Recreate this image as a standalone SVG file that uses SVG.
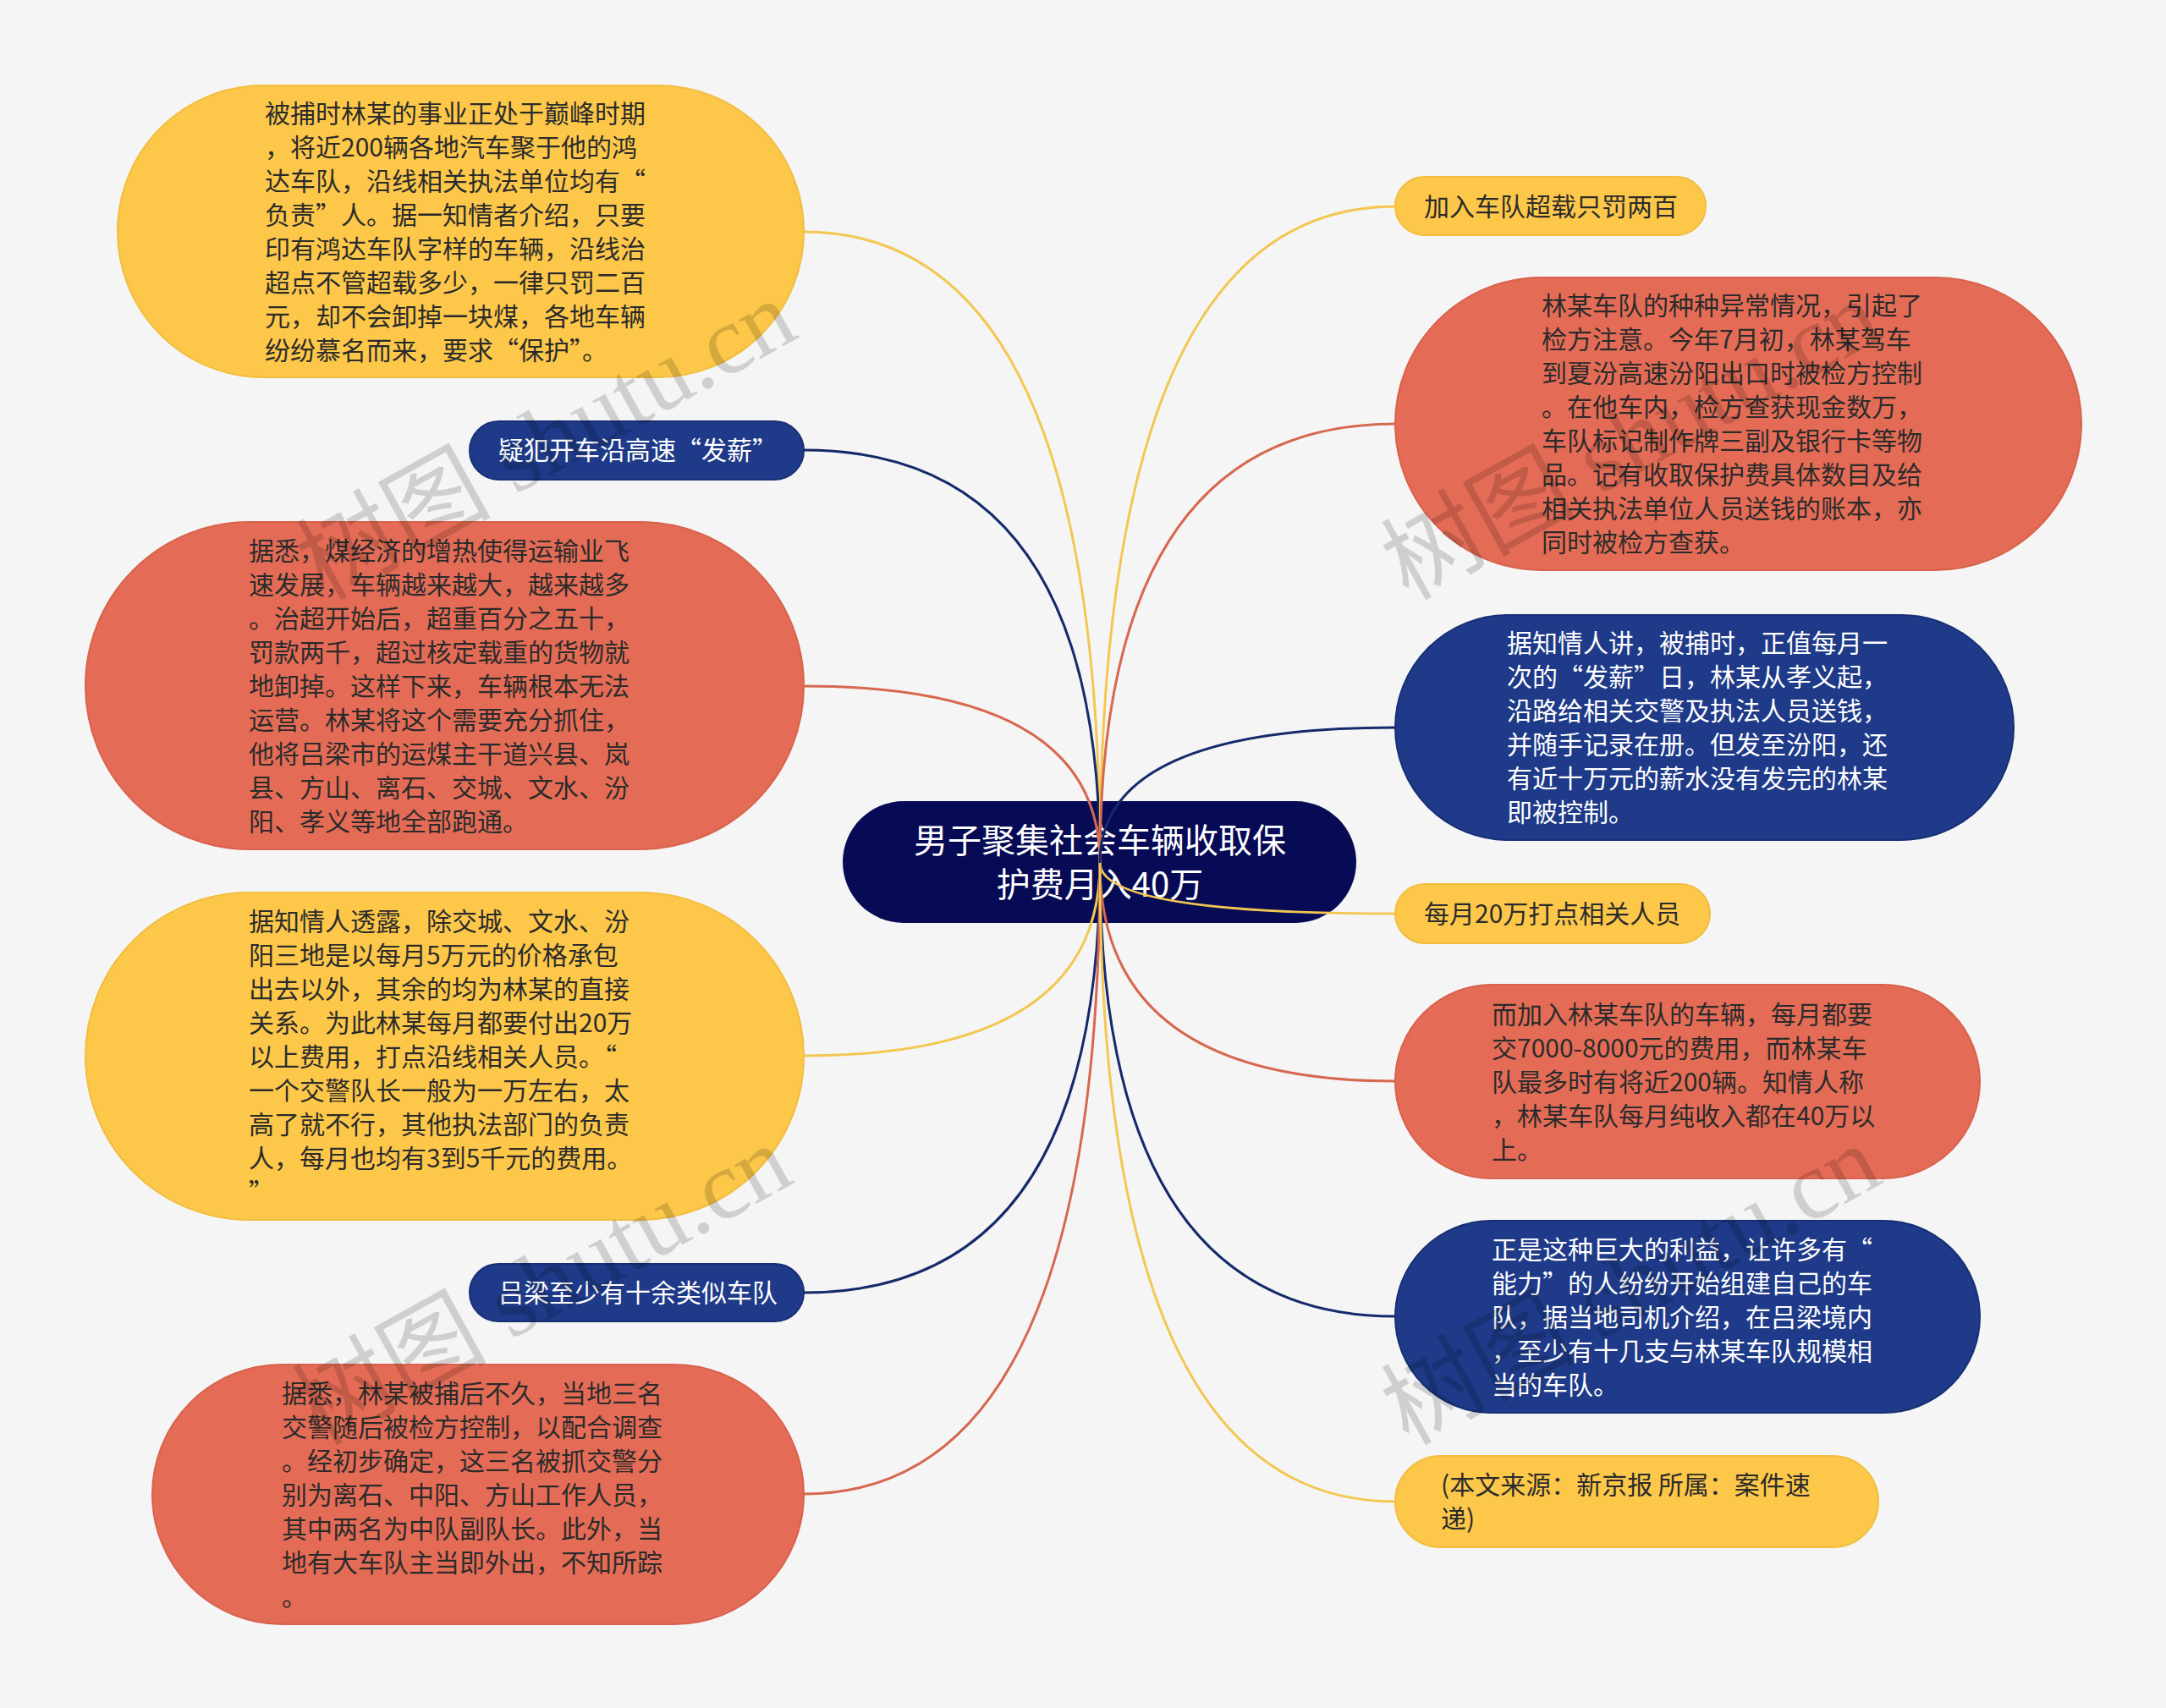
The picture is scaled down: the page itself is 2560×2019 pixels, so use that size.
<svg xmlns="http://www.w3.org/2000/svg" width="2560" height="2019" viewBox="0 0 2560 2019">
<style>
.t{font-family:"Noto Sans CJK SC","Noto Sans",sans-serif;font-size:30px}
.dk{fill:#2b2b2b}
.wt{fill:#ffffff}
.ct{font-family:"Noto Sans CJK SC","Noto Sans",sans-serif;font-size:40px;fill:#ffffff;text-anchor:middle}
.y{fill:#FDC84A;stroke:#F2BD3E;stroke-width:2}
.r{fill:#E46C56;stroke:#D8624D;stroke-width:2}
.b{fill:#1E3A88;stroke:#172F74;stroke-width:2}
.c{fill:#070B56}
.ln{fill:none;stroke-width:3}
.ly{stroke:#F3C752}
.lr{stroke:#D7684F}
.lb{stroke:#152A6A}
.wm{font-family:"Liberation Serif","Noto Sans CJK SC",serif;font-size:115px;fill:#000;opacity:0.15;text-anchor:middle}
</style>
<rect x="0" y="0" width="2560" height="2019" fill="#F5F5F5"/>

<g id="center">
<rect class="c" x="996" y="947" width="607" height="144" rx="72"/>
<text class="ct"><tspan x="1300" y="1008">男子聚集社会车辆收取保</tspan><tspan x="1300" y="1060">护费月入40万</tspan></text>
</g>

<g id="L1">
<rect class="y" x="139" y="101" width="811" height="345" rx="172.5"/>
<text class="t dk"><tspan x="313" y="145">被捕时林某的事业正处于巅峰时期</tspan><tspan x="313" y="185">，将近200辆各地汽车聚于他的鸿</tspan><tspan x="313" y="225">达车队，沿线相关执法单位均有“</tspan><tspan x="313" y="265">负责”人。据一知情者介绍，只要</tspan><tspan x="313" y="305">印有鸿达车队字样的车辆，沿线治</tspan><tspan x="313" y="345">超点不管超载多少，一律只罚二百</tspan><tspan x="313" y="385">元，却不会卸掉一块煤，各地车辆</tspan><tspan x="313" y="425">纷纷慕名而来，要求“保护”。</tspan></text>
</g>

<g id="L2">
<rect class="b" x="555" y="498" width="395" height="69" rx="34.5"/>
<text class="t wt"><tspan x="589" y="543">疑犯开车沿高速“发薪”</tspan></text>
</g>

<g id="L3">
<rect class="r" x="101" y="617" width="849" height="387" rx="193.5"/>
<text class="t dk"><tspan x="294" y="662">据悉，煤经济的增热使得运输业飞</tspan><tspan x="294" y="702">速发展，车辆越来越大，越来越多</tspan><tspan x="294" y="742">。治超开始后，超重百分之五十，</tspan><tspan x="294" y="782">罚款两千，超过核定载重的货物就</tspan><tspan x="294" y="822">地卸掉。这样下来，车辆根本无法</tspan><tspan x="294" y="862">运营。林某将这个需要充分抓住，</tspan><tspan x="294" y="902">他将吕梁市的运煤主干道兴县、岚</tspan><tspan x="294" y="942">县、方山、离石、交城、文水、汾</tspan><tspan x="294" y="982">阳、孝义等地全部跑通。</tspan></text>
</g>

<g id="L4">
<rect class="y" x="101" y="1055" width="849" height="387" rx="193.5"/>
<text class="t dk"><tspan x="294" y="1100">据知情人透露，除交城、文水、汾</tspan><tspan x="294" y="1140">阳三地是以每月5万元的价格承包</tspan><tspan x="294" y="1180">出去以外，其余的均为林某的直接</tspan><tspan x="294" y="1220">关系。为此林某每月都要付出20万</tspan><tspan x="294" y="1260">以上费用，打点沿线相关人员。“</tspan><tspan x="294" y="1300">一个交警队长一般为一万左右，太</tspan><tspan x="294" y="1340">高了就不行，其他执法部门的负责</tspan><tspan x="294" y="1380">人，每月也均有3到5千元的费用。</tspan><tspan x="294" y="1420">”</tspan></text>
</g>

<g id="L5">
<rect class="b" x="555" y="1494" width="395" height="68" rx="34"/>
<text class="t wt"><tspan x="589" y="1539">吕梁至少有十余类似车队</tspan></text>
</g>

<g id="L6">
<rect class="r" x="180" y="1613" width="770" height="307" rx="153.5"/>
<text class="t dk"><tspan x="333" y="1658">据悉，林某被捕后不久，当地三名</tspan><tspan x="333" y="1698">交警随后被检方控制，以配合调查</tspan><tspan x="333" y="1738">。经初步确定，这三名被抓交警分</tspan><tspan x="333" y="1778">别为离石、中阳、方山工作人员，</tspan><tspan x="333" y="1818">其中两名为中队副队长。此外，当</tspan><tspan x="333" y="1858">地有大车队主当即外出，不知所踪</tspan><tspan x="333" y="1898">。</tspan></text>
</g>

<g id="R1">
<rect class="y" x="1649" y="209" width="367" height="69" rx="34.5"/>
<text class="t dk"><tspan x="1683" y="255">加入车队超载只罚两百</tspan></text>
</g>

<g id="R2">
<rect class="r" x="1649" y="328" width="811" height="346" rx="173"/>
<text class="t dk"><tspan x="1822" y="372">林某车队的种种异常情况，引起了</tspan><tspan x="1822" y="412">检方注意。今年7月初，林某驾车</tspan><tspan x="1822" y="452">到夏汾高速汾阳出口时被检方控制</tspan><tspan x="1822" y="492">。在他车内，检方查获现金数万，</tspan><tspan x="1822" y="532">车队标记制作牌三副及银行卡等物</tspan><tspan x="1822" y="572">品。记有收取保护费具体数目及给</tspan><tspan x="1822" y="612">相关执法单位人员送钱的账本，亦</tspan><tspan x="1822" y="652">同时被检方查获。</tspan></text>
</g>

<g id="R3">
<rect class="b" x="1649" y="727" width="731" height="266" rx="133"/>
<text class="t wt"><tspan x="1781" y="771">据知情人讲，被捕时，正值每月一</tspan><tspan x="1781" y="811">次的“发薪”日，林某从孝义起，</tspan><tspan x="1781" y="851">沿路给相关交警及执法人员送钱，</tspan><tspan x="1781" y="891">并随手记录在册。但发至汾阳，还</tspan><tspan x="1781" y="931">有近十万元的薪水没有发完的林某</tspan><tspan x="1781" y="971">即被控制。</tspan></text>
</g>

<g id="R4">
<rect class="y" x="1649" y="1045" width="372" height="70" rx="35"/>
<text class="t dk"><tspan x="1683" y="1091">每月20万打点相关人员</tspan></text>
</g>

<g id="R5">
<rect class="r" x="1649" y="1164" width="691" height="229" rx="114.5"/>
<text class="t dk"><tspan x="1763" y="1210">而加入林某车队的车辆，每月都要</tspan><tspan x="1763" y="1250">交7000-8000元的费用，而林某车</tspan><tspan x="1763" y="1290">队最多时有将近200辆。知情人称</tspan><tspan x="1763" y="1330">，林某车队每月纯收入都在40万以</tspan><tspan x="1763" y="1370">上。</tspan></text>
</g>

<g id="R6">
<rect class="b" x="1649" y="1443" width="691" height="227" rx="113.5"/>
<text class="t wt"><tspan x="1763" y="1488">正是这种巨大的利益，让许多有“</tspan><tspan x="1763" y="1528">能力”的人纷纷开始组建自己的车</tspan><tspan x="1763" y="1568">队，据当地司机介绍，在吕梁境内</tspan><tspan x="1763" y="1608">，至少有十几支与林某车队规模相</tspan><tspan x="1763" y="1648">当的车队。</tspan></text>
</g>

<g id="R7">
<rect class="y" x="1649" y="1721" width="571" height="108" rx="54"/>
<text class="t dk"><tspan x="1703" y="1766">(本文来源：新京报 所属：案件速</tspan><tspan x="1703" y="1806">递)</tspan></text>
</g>

<g id="connectors">
<path class="ln ly" d="M1300,1020 Q1300,274 950,274"/>
<path class="ln lb" d="M1300,1020 Q1300,532 950,532"/>
<path class="ln lr" d="M1300,1020 Q1300,811 950,811"/>
<path class="ln ly" d="M1300,1020 Q1300,1248 950,1248"/>
<path class="ln lb" d="M1300,1020 Q1300,1528 950,1528"/>
<path class="ln lr" d="M1300,1020 Q1300,1766 950,1766"/>
<path class="ln ly" d="M1300,1020 Q1300,244 1649,244"/>
<path class="ln lr" d="M1300,1020 Q1300,501 1649,501"/>
<path class="ln lb" d="M1300,1020 Q1300,860 1649,860"/>
<path class="ln ly" d="M1300,1020 Q1300,1080 1649,1080"/>
<path class="ln lr" d="M1300,1020 Q1300,1278 1649,1278"/>
<path class="ln lb" d="M1300,1020 Q1300,1556 1649,1556"/>
<path class="ln ly" d="M1300,1020 Q1300,1775 1649,1775"/>
</g>

<g id="watermarks">
<text class="wm" transform="translate(645,519) rotate(-29)" y="40">树图 shutu.cn</text>
<text class="wm" transform="translate(1927,519) rotate(-29)" y="40">树图 shutu.cn</text>
<text class="wm" transform="translate(640,1518) rotate(-29)" y="40">树图 shutu.cn</text>
<text class="wm" transform="translate(1927,1518) rotate(-29)" y="40">树图 shutu.cn</text>
</g>
</svg>
